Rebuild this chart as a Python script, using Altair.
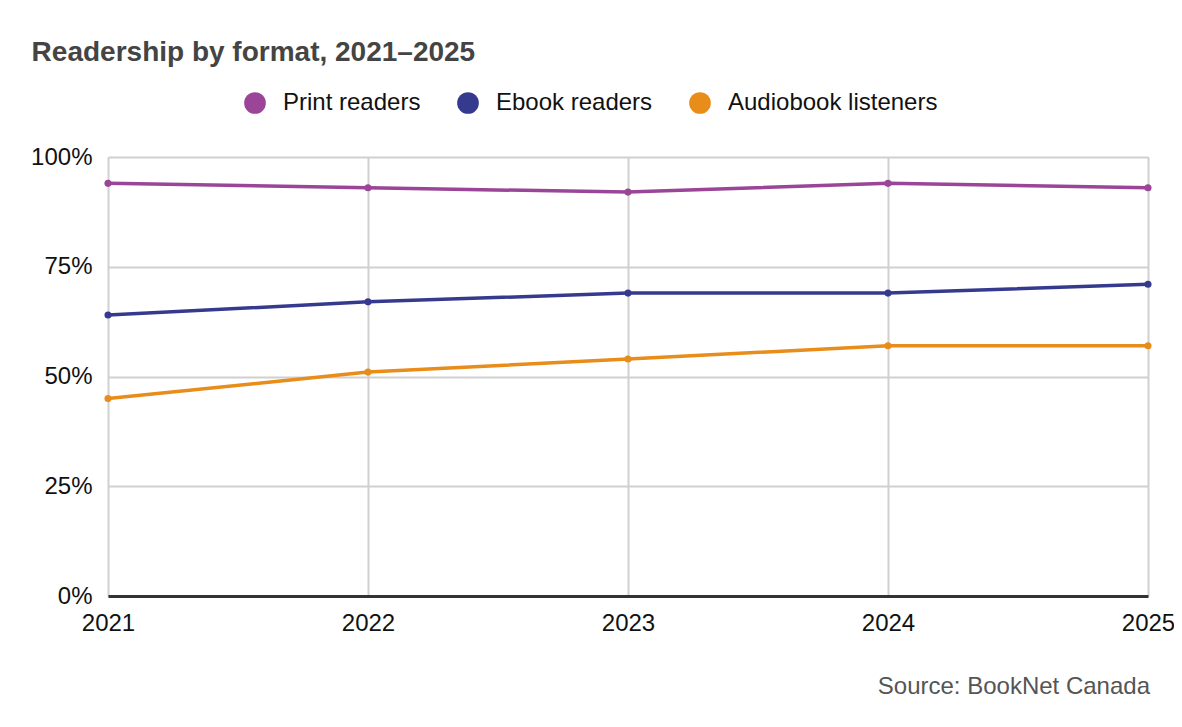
import altair as alt
import pandas as pd

years = ["2021", "2022", "2023", "2024", "2025"]
series_names = ["Print readers", "Ebook readers", "Audiobook listeners"]
print_vals = [94, 93, 92, 94, 93]
ebook_vals = [64, 67, 69, 69, 71]
audio_vals = [45, 51, 54, 57, 57]
colors = ["#9A4597", "#363A8F", "#E88C1A"]
y_ticks = [0, 25, 50, 75, 100]

rows = []
for name, vals in zip(series_names, [print_vals, ebook_vals, audio_vals]):
    for yr, v in zip(years, vals):
        rows.append({"Year": yr, "Series": name, "Value": v})
df = pd.DataFrame(rows)

FONT = "Liberation Sans"
W, H = 1040, 439

x_enc = alt.X("Year:O", sort=years,
              scale=alt.Scale(type="point", padding=0),
              axis=alt.Axis(title=None, labelAngle=0, labelFontSize=24, labelColor="#111",
                            labelPadding=15, ticks=False, grid=True, gridColor="#d0d0d0",
                            gridWidth=2, domain=True, domainColor="#333", domainWidth=3,
                            labelFont=FONT))
y_enc = alt.Y("Value:Q", scale=alt.Scale(domain=[0, 100]),
              axis=alt.Axis(title=None, values=y_ticks, labelExpr="datum.value + '%'",
                            labelFontSize=24, labelColor="#111", labelPadding=16,
                            ticks=False, domain=False, gridColor="#d0d0d0", gridWidth=2,
                            labelFont=FONT))
color_enc = alt.Color("Series:N", sort=series_names,
                      scale=alt.Scale(domain=series_names, range=colors),
                      legend=alt.Legend(title=None, orient="none", direction="horizontal",
                                        legendX=135, legendY=-66, symbolType="circle",
                                        symbolSize=470, symbolStrokeWidth=0,
                                        labelFontSize=24, labelFont=FONT, labelColor="#111",
                                        labelLimit=400, columnPadding=35, labelOffset=16))

base = alt.Chart(df).encode(x=x_enc, y=y_enc, color=color_enc)
lines = base.mark_line(strokeWidth=3.5)
points = base.mark_point(filled=True, size=50, opacity=1)

src = alt.Chart(pd.DataFrame({"t": ["Source: BookNet Canada"]})).mark_text(
    align="right", baseline="middle", fontSize=24, font=FONT, color="#555"
).encode(text="t:N", x=alt.value(W + 2), y=alt.value(H + 91))

chart = alt.layer(lines, points, src).properties(
    width=W, height=H,
    title=alt.TitleParams("Readership by format, 2021–2025", anchor="start", dx=1,
                          offset=24, fontSize=28, font=FONT, fontWeight="bold",
                          color="#444"),
    autosize=alt.AutoSizeParams(type="none"),
    padding={"left": 100, "top": 149, "right": 26, "bottom": 112},
).configure_view(stroke=None).configure(background="white")

chart.save("out.html", embed_options={"renderer": "svg", "actions": False})
